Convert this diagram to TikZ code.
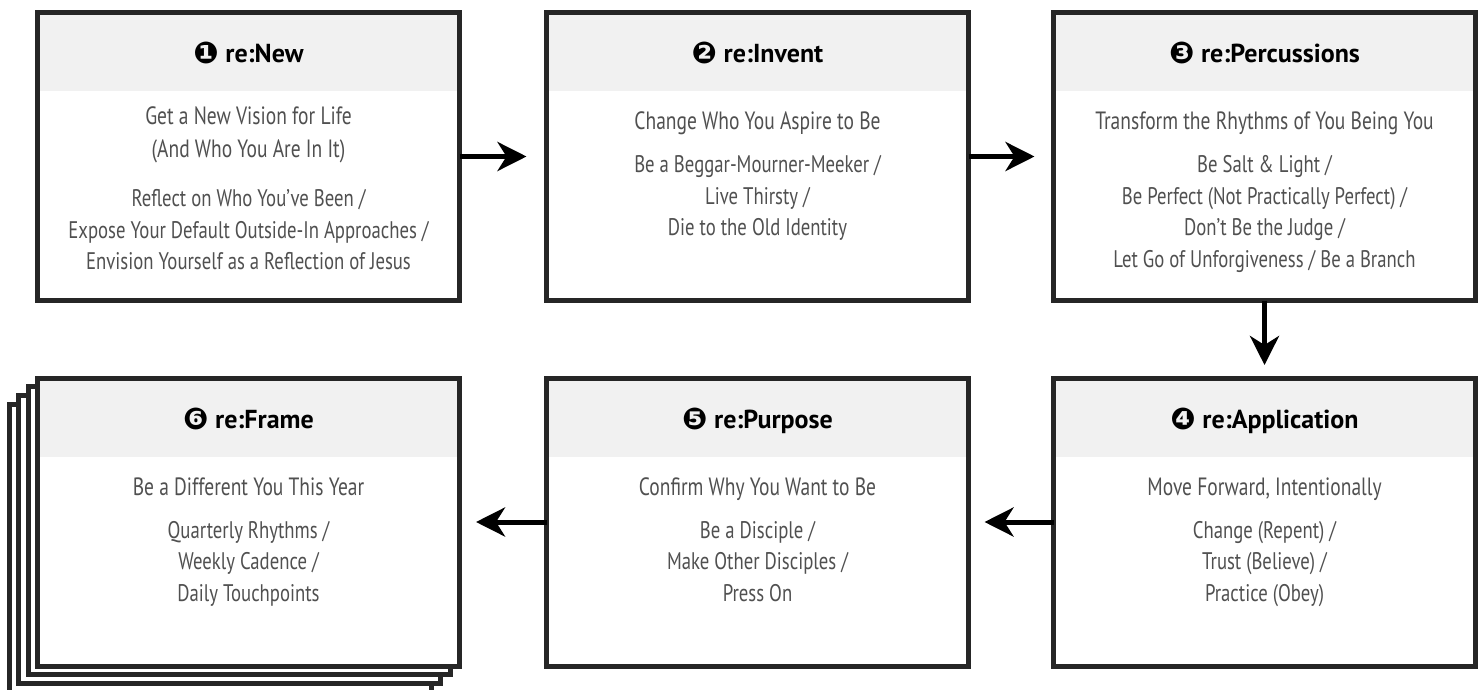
\documentclass[tikz,border=0pt]{standalone}
\usepackage{fontspec}
\usetikzlibrary{arrows.meta}
\newfontfamily\bodyfont{PT Sans}[FakeStretch=0.78]
\newfontfamily\headfont{PT Sans}
\newfontfamily\dingfont{DejaVu Sans}
\definecolor{framecol}{HTML}{262626}
\definecolor{headcol}{HTML}{F1F1F1}
\definecolor{bodycol}{HTML}{505050}
\newcommand{\num}[1]{{\dingfont\fontsize{30}{30}\selectfont\raisebox{-1pt}{#1}}}

\tikzset{
  card/.style={rectangle, draw=framecol, line width=5pt, fill=white,
    minimum width=422pt, minimum height=288pt, inner sep=0pt, outer sep=0pt,
    path picture={\fill[headcol] (path picture bounding box.north west)
      rectangle ([yshift=-78.5pt]path picture bounding box.north east);}},
  sheet/.style={rectangle, draw=framecol, line width=5pt, fill=white,
    minimum width=422pt, minimum height=288pt, inner sep=0pt, outer sep=0pt},
  titletext/.style={anchor=base, inner sep=0pt, text=black,
    font=\headfont\bfseries\fontsize{26}{30}\selectfont},
  % multi-line blocks hang from a strut so the first baseline is fixed
  subtext/.style={anchor=north, inner sep=0pt, align=center, text=bodycol,
    font=\bodyfont\fontsize{25}{33}\selectfont, execute at begin node=\strut},
  detailtext/.style={anchor=north, inner sep=0pt, align=center, text=bodycol,
    font=\bodyfont\fontsize{24}{31.5}\selectfont, execute at begin node=\strut},
  flow/.style={draw=black, line width=5pt,
    -{Stealth[length=29pt, width=29pt, inset=9pt]}}
}

\begin{document}
\begin{tikzpicture}[x=1pt, y=-1pt]
\useasboundingbox (0,0) rectangle (1482,690);

% stacked sheets behind the last card
\node[sheet] (sheetc) at (220.6,548.1) {};
\node[sheet] (sheetb) at (229.9,539.4) {};
\node[sheet] (sheeta) at (239.2,530.7) {};

% cards
\node[card] (b1) at (248.5,156.5) {};
\node[card] (b2) at (757.5,156.5) {};
\node[card] (b3) at (1264.5,156.5) {};
\node[card] (b4) at (1264.5,522) {};
\node[card] (b5) at (757.5,522) {};
\node[card] (b6) at (248.5,522) {};

% card 1
\node[titletext] (t1) at ([yshift=-50.5pt]b1.north) {\num{❶} re:New};
\node[subtext] (s1) at ([yshift=-93.9pt]b1.north) {Get a New Vision for Life\\(And Who You Are In It)};
\node[detailtext] (d1) at ([yshift=-177pt]b1.north) {Reflect on Who You’ve Been /\\Expose Your Default Outside-In Approaches /\\Envision Yourself as a Reflection of Jesus};

% card 2
\node[titletext] (t2) at ([yshift=-50.5pt]b2.north) {\num{❷} re:Invent};
\node[subtext] (s2) at ([yshift=-93.9pt]b2.north) {Change Who You Aspire to Be};
\node[detailtext] (d2) at ([yshift=-143pt]b2.north) {Be a Beggar-Mourner-Meeker /\\Live Thirsty /\\Die to the Old Identity};

% card 3
\node[titletext] (t3) at ([yshift=-50.5pt]b3.north) {\num{❸} re:Percussions};
\node[subtext] (s3) at ([yshift=-93.9pt]b3.north) {Transform the Rhythms of You Being You};
\node[detailtext] (d3) at ([yshift=-143pt]b3.north) {Be Salt \& Light /\\Be Perfect (Not Practically Perfect) /\\Don’t Be the Judge /\\Let Go of Unforgiveness / Be a Branch};

% card 4
\node[titletext] (t4) at ([yshift=-50.5pt]b4.north) {\num{❹} re:Application};
\node[subtext] (s4) at ([yshift=-93.9pt]b4.north) {Move Forward, Intentionally};
\node[detailtext] (d4) at ([yshift=-143pt]b4.north) {Change (Repent) /\\Trust (Believe) /\\Practice (Obey)};

% card 5
\node[titletext] (t5) at ([yshift=-50.5pt]b5.north) {\num{❺} re:Purpose};
\node[subtext] (s5) at ([yshift=-93.9pt]b5.north) {Confirm Why You Want to Be};
\node[detailtext] (d5) at ([yshift=-143pt]b5.north) {Be a Disciple /\\Make Other Disciples /\\Press On};

% card 6
\node[titletext] (t6) at ([yshift=-50.5pt]b6.north) {\num{❻} re:Frame};
\node[subtext] (s6) at ([yshift=-93.9pt]b6.north) {Be a Different You This Year};
\node[detailtext] (d6) at ([yshift=-143pt]b6.north) {Quarterly Rhythms /\\Weekly Cadence /\\Daily Touchpoints};

% flow between cards
\draw[flow, shorten >=20pt] (b1.east) -- (b2.west);
\draw[flow, shorten >=19pt] (b2.east) -- (b3.west);
\draw[flow, shorten >=13pt] (b3.south) -- (b4.north);
\draw[flow, shorten >=16pt] (b4.west) -- (b5.east);
\draw[flow, shorten >=16.5pt] (b5.west) -- (b6.east);
\end{tikzpicture}
\end{document}
